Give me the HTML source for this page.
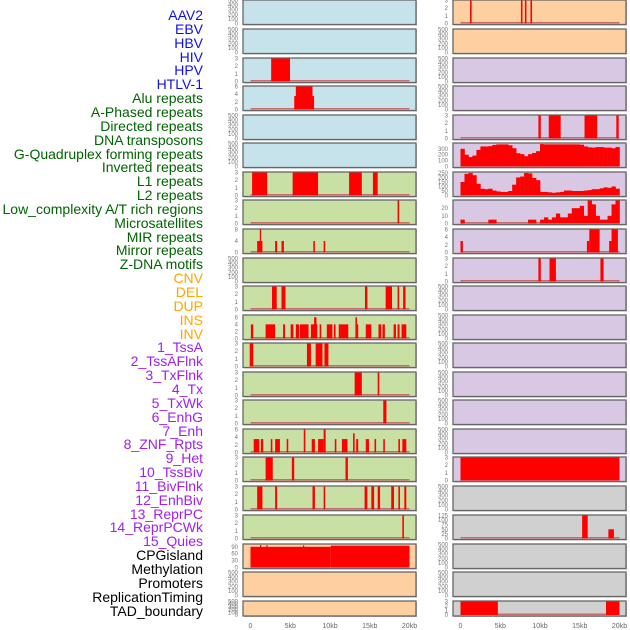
<!DOCTYPE html>
<html><head><meta charset="utf-8">
<style>
html,body{margin:0;padding:0;background:#fff;}
#root{position:relative;width:630px;height:630px;overflow:hidden;font-family:"Liberation Sans",sans-serif;}
.lbl{position:absolute;right:427px;font-size:14px;line-height:14px;white-space:nowrap;}
</style></head>
<body>
<div id="root">
<svg id="svg" width="630" height="630" style="position:absolute;left:0;top:0"></svg>
</div>
<script>
// ---------- data ----------
const trackLabels = ["AAV2","EBV","HBV","HIV","HPV","HTLV-1","Alu repeats","A-Phased repeats","Directed repeats","DNA transposons","G-Quadruplex forming repeats","Inverted repeats","L1 repeats","L2 repeats","Low_complexity A/T rich regions","Microsatellites","MIR repeats","Mirror repeats","Z-DNA motifs","CNV","DEL","DUP","INS","INV","1_TssA","2_TssAFlnk","3_TxFlnk","4_Tx","5_TxWk","6_EnhG","7_Enh","8_ZNF_Rpts","9_Het","10_TssBiv","11_BivFlnk","12_EnhBiv","13_ReprPC","14_ReprPCWk","15_Quies","CPGisland","Methylation","Promoters","ReplicationTiming","TAD_boundary"];
const labelGroups = ["v","v","v","v","v","v","r","r","r","r","r","r","r","r","r","r","r","r","r","s","s","s","s","s","c","c","c","c","c","c","c","c","c","c","c","c","c","c","c","k","k","k","k","k"];
const xTickLabels = ["0","5kb","10kb","15kb","20kb"];
const xTickValues = [0,5,10,15,20];
const emptyTicks = [0,100,200,300,400,500];
// bars: [startKb, endKb, value]
const L3 = [[2.6,4.97,3]];
const L4 = [[5.5,8.0,3.5],[5.7,7.8,6]];
const L7 = [[0.2,2.1,3],[5.3,8.5,3],[12.4,14,3],[15.4,16,3]];
const L8 = [[18.5,18.7,3]];
const L9 = [[0.84,1.5,4],[1.17,1.34,8],[3.1,3.35,4],[3.9,4.2,4],[7.9,8.1,4],[9.2,9.4,4]];
const L11 = [[2.7,3.3,3],[3.9,4.4,3],[14.4,14.7,3],[17,17.8,3],[18.5,18.7,3],[19.2,19.5,3]];
const L12 = [[0.05,0.35,4],[1.9,3.1,4],[4.1,4.35,4],[5.05,5.4,4],[5.7,6.1,4],[6.2,7.3,4],[7.6,8.4,4],[8.7,8.9,4],[9.6,10.3,4],[10.5,10.7,4],[11.1,12.3,4],[13.2,13.55,4],[14.5,15.2,4],[16.1,16.45,4],[16.6,16.9,4],[18,18.3,4],[18.5,18.75,4],[19,19.6,4],[8.0,8.3,6],[13.2,13.4,6]];
const L13 = [[-0.1,0.35,3],[7.1,7.6,3],[8.2,9.05,3],[9.3,9.8,3]];
const L14 = [[13.1,14,3],[16,16.2,3]];
const L15 = [[16.7,17.1,3]];
const L16 = [[0.4,1.1,3.5],[1.3,1.6,3.5],[2.55,2.75,3.5],[3.1,3.7,3.5],[4.55,4.75,3.5],[7.7,8.1,3.5],[8.5,9.2,3.5],[10.6,10.8,3.5],[11.5,12.2,3.5],[13.3,13.55,3.5],[14.5,14.9,3.5],[15.6,15.8,3.5],[16.7,16.9,3.5],[18.6,18.8,3.5],[19.1,19.6,3.5],[6.7,6.9,6],[9.2,9.45,6],[12.9,13.1,5]];
const L17 = [[1.9,2.8,3],[5.2,5.5,3],[11.95,12.25,3]];
const L18 = [[0.84,1.5,3],[3.1,3.35,3],[7.8,8.1,3],[9.2,9.4,3],[14.35,14.7,3],[15.2,15.55,3],[16,16.3,3],[17.7,18.05,3],[18.6,18.8,3],[19.35,19.6,3]];
const L19 = [[19.1,19.3,3]];
const L20 = [[0,10.1,90],[10.1,20,95],[1.2,1.3,98],[2.0,2.1,97],[6.6,6.7,96]];
const R1 = [[1.2,1.4,3],[7.6,7.8,3],[8.1,8.3,3],[8.8,9.0,3]];
const R5 = [[9.8,10.1,3],[11.1,12.6,3],[15.6,17.2,3],[19.6,19.9,3]];
const R9 = [[0,0.3,3],[15.9,16.2,3],[16.2,17.5,6],[18.7,19.0,3],[19.0,19.8,6]];
const R10 = [[9.8,10.1,3],[11.2,12.0,3],[17.6,18.0,3]];
const R17 = [[0,20,3]];
const R19 = [[15.3,16.0,125],[18.6,19.3,50]];
const R22 = [[0,4.7,3],[18.3,20,3]];
// profiles: 40 bins of 0.5kb
const R6 = [300,200,160,185,280,340,340,345,365,375,375,375,360,310,225,210,175,210,230,260,380,375,375,375,375,375,375,375,375,375,370,340,325,320,330,330,320,320,310,330];
const R7 = [150,240,250,225,130,75,70,75,55,45,40,40,50,120,200,210,250,245,195,170,40,40,35,30,35,40,55,55,50,50,50,55,60,70,70,80,90,85,100,75];
const R8 = [5,0,0,0,0,0,0,5,5,0,0,0,0,0,0,0,0,5,5,0,5,8,5,8,13,8,8,13,20,20,23,10,30,25,10,5,5,10,25,30];

// ---------- layout ----------
const BLUE="#c6e3ec",GREEN="#c8e0a4",ORANGE="#ffd09f",PURPLE="#d8c8e4",GREY="#d0d0d0";
const rowTops=[0,29,58,86,115,143,172,200,229,258,286,315,343,372,400,429,457,486,515,544,572,601];
const colX=[243,453], panelW=173;
function bgFor(col,r){ if(col===0){ if(r<6)return BLUE; if(r<19)return GREEN; return ORANGE;} if(r<2)return ORANGE; if(r<17)return PURPLE; return GREY; }
const panels=[
 {c:0,r:2,bars:L3,ticks:[0,1,2,3],max:3},
 {c:0,r:3,bars:L4,ticks:[0,2,4,6],max:6},
 {c:0,r:6,bars:L7,ticks:[0,1,2,3],max:3},
 {c:0,r:7,bars:L8,ticks:[0,1,2,3],max:3},
 {c:0,r:8,bars:L9,ticks:[0,4,8],max:8},
 {c:0,r:10,bars:L11,ticks:[0,1,2,3],max:3},
 {c:0,r:11,bars:L12,ticks:[0,2,4,6],max:6.5},
 {c:0,r:12,bars:L13,ticks:[0,1,2,3],max:3},
 {c:0,r:13,bars:L14,ticks:[0,1,2,3],max:3},
 {c:0,r:14,bars:L15,ticks:[0,1,2,3],max:3},
 {c:0,r:15,bars:L16,ticks:[0,2,4,6],max:6},
 {c:0,r:16,bars:L17,ticks:[0,1,2,3],max:3},
 {c:0,r:17,bars:L18,ticks:[0,1,2,3],max:3},
 {c:0,r:18,bars:L19,ticks:[0,1,2,3],max:3},
 {c:0,r:19,bars:L20,ticks:[0,30,60,90],max:100,nobase:true},
 {c:1,r:0,bars:R1,ticks:[0,1,2,3],max:3},
 {c:1,r:4,bars:R5,ticks:[0,1,2,3],max:3},
 {c:1,r:5,prof:R6,ticks:[0,100,200,300],max:390},
 {c:1,r:6,prof:R7,ticks:[0,50,100,150,200,250],max:255},
 {c:1,r:7,prof:R8,ticks:[0,10,20],max:30},
 {c:1,r:8,bars:R9,ticks:[0,2,4,6],max:6},
 {c:1,r:9,bars:R10,ticks:[0,1,2,3],max:3},
 {c:1,r:16,bars:R17,ticks:[0,1,2,3],max:3},
 {c:1,r:18,bars:R19,ticks:[0,25,50,75,100,125],max:125},
 {c:1,r:21,bars:R22,ticks:[0,1,2,3],max:3},
];
const NS="http://www.w3.org/2000/svg";
const svg=document.getElementById('svg');
function mk(t,a,p){const e=document.createElementNS(NS,t);for(const k in a)e.setAttribute(k,a[k]);(p||svg).appendChild(e);return e;}
function xs(col,kb){return colX[col]+7.5+kb*7.95;}
function ph(r){return r===21?15:24.5;}
for(let col=0;col<2;col++){
 for(let r=0;r<22;r++){
  const y=rowTops[r], h=ph(r);
  const g=mk('g',{});
  
  
  mk('rect',{x:colX[col]+1,y:y+1,width:panelW,height:h,fill:'#bbb'},g);
  mk('rect',{x:colX[col],y:y,width:panelW,height:h,fill:bgFor(col,r),stroke:'#666','stroke-width':1.3},g);
  const p=panels.find(q=>q.c===col&&q.r===r);
  const bottom=y+h-1, top=y+0.5;
  const ys=v=>bottom-(v/(p?p.max:500))*(bottom-top);
  const ticks=p?p.ticks:emptyTicks;
  ticks.forEach(t=>{
   const tx=mk('text',{x:colX[col]-5,y:ys(t)+2,'font-size':6,'text-anchor':'end',fill:'#777'},g);
   tx.textContent=t;
   
   
  });
  if(!p) continue;
  if(!p.nobase){
   const bl=mk('rect',{x:xs(col,0),y:bottom-1.5,width:xs(col,20)-xs(col,0),height:1.5,fill:'#c85050',opacity:0.8},g);
   
   
  }
  if(p.bars){
   p.bars.forEach(b=>{
    const x0=xs(col,b[0]),x1=xs(col,b[1]);
    const rr=mk('rect',{x:x0,y:ys(b[2]),width:Math.max(1.2,x1-x0),height:bottom-ys(b[2]),fill:'#ff0000'},g);
    
    
   });
  }
  if(p.prof){
   p.prof.forEach((v,i)=>{
    if(v<=0) return;
    const x0=xs(col,i*0.5),x1=xs(col,(i+1)*0.5);
    const rr=mk('rect',{x:x0,y:ys(v),width:x1-x0+0.3,height:bottom-ys(v),fill:'#ff0000'},g);
    
    
   });
  }
 }
 xTickValues.forEach((v,i)=>{
  const t=mk('text',{x:xs(col,v),y:628,'font-size':7,'text-anchor':'middle',fill:'#666'});
  t.textContent=xTickLabels[i];
  
  
 });
}
// labels
const colors={v:"#1010ee",r:"#006400",s:"#ffa500",c:"#a020f0",k:"#000"};
const root=document.getElementById('root');
trackLabels.forEach((s,i)=>{
 const d=document.createElement('div');
 d.className='lbl';
 d.style.top=(8+i*13.85)+'px';
 d.style.color=colors[labelGroups[i]];
 d.textContent=s;
 
 
 root.appendChild(d);
});
</script>
</body></html>
